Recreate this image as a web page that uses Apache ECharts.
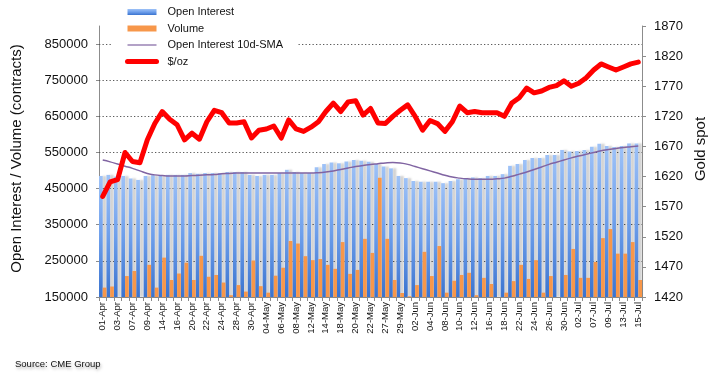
<!DOCTYPE html>
<html><head><meta charset="utf-8">
<script src="https://cdn.jsdelivr.net/npm/echarts@6/dist/echarts.min.js"></script>
<style>html,body{margin:0;padding:0;background:#fff}#c{width:717px;height:382px}</style>
</head><body><div id="c"></div>
<script>
const categories = ['01-Apr','02-Apr','03-Apr','06-Apr','07-Apr','08-Apr','09-Apr','13-Apr','14-Apr','15-Apr','16-Apr','17-Apr','20-Apr','21-Apr','22-Apr','23-Apr','24-Apr','27-Apr','28-Apr','29-Apr','30-Apr',
'01-May','04-May','05-May','06-May','07-May','08-May','11-May','12-May','13-May','14-May','15-May','18-May','19-May','20-May','21-May','22-May','26-May','27-May','28-May','29-May',
'01-Jun','02-Jun','03-Jun','04-Jun','05-Jun','08-Jun','09-Jun','10-Jun','11-Jun','12-Jun','15-Jun','16-Jun','17-Jun','18-Jun','19-Jun','22-Jun','23-Jun','24-Jun','25-Jun','26-Jun','29-Jun','30-Jun',
'01-Jul','02-Jul','06-Jul','07-Jul','08-Jul','09-Jul','10-Jul','13-Jul','14-Jul','15-Jul'];

const openInterest = [485000,488000,483000,485000,478000,474000,485000,487000,485000,488000,488000,488000,493000,491000,493000,493000,493000,496000,496000,496000,488000,
485000,488000,488000,493000,502000,496000,493000,493000,509000,518000,522000,520000,525000,529000,527000,524000,518000,511000,506000,485000,
479000,471000,469000,469000,469000,465000,471000,476000,479000,481000,479000,485000,485000,490000,513000,518000,529000,535000,535000,543000,543000,557000,
553000,554000,557000,566000,574000,568000,565000,568000,575000,575000];

const volume = [176000,179000,145000,208000,222000,140000,239000,176000,259000,197000,215000,245000,197000,264000,206000,211000,190000,155000,183000,165000,251000,
180000,162000,209000,231000,305000,298000,263000,252000,255000,239000,228000,302000,214000,225000,311000,272000,480000,311000,197000,161000,
152000,183000,275000,208000,291000,162000,195000,211000,217000,155000,203000,186000,140000,162000,194000,239000,200000,252000,162000,208000,140000,211000,
283000,203000,203000,247000,313000,338000,270000,270000,302000,197000];

const oiSma10 = [529000,524000,518000,512000,506000,499000,492000,488000,486000,485000,485000,485000,486000,487000,488000,489000,491000,492000,493000,493000,493000,
493000,493000,493000,493000,493000,493000,493000,493000,494000,496000,499000,503000,507000,511000,514000,517000,519000,521000,522000,521000,
517000,511000,505000,499000,493000,487000,482000,479000,477000,476000,476000,476000,477000,479000,484000,490000,496000,503000,510000,517000,523000,529000,
535000,540000,545000,550000,555000,558000,561000,564000,566000,568000];

const goldSpot = [1587,1611,1615,1660,1645,1643,1681,1708,1728,1715,1706,1681,1692,1682,1711,1730,1726,1709,1709,1711,1684,
1697,1699,1704,1684,1714,1699,1695,1702,1711,1728,1742,1728,1744,1746,1722,1733,1709,1708,1720,1730,
1739,1720,1697,1713,1708,1695,1711,1737,1726,1728,1726,1726,1726,1720,1742,1751,1767,1759,1762,1768,1771,1779,
1770,1775,1784,1797,1807,1802,1797,1802,1807,1810];

const leftTicks = [150000,250000,350000,450000,550000,650000,750000,850000];
const rightTicks = [1420,1470,1520,1570,1620,1670,1720,1770,1820,1870];

const FONT = 'Liberation Sans, Arial, Helvetica, sans-serif';
const chart = echarts.init(document.getElementById('c'), null, {renderer: 'canvas'});
const axisGrey = '#8c8c8c';
const plain = v => String(v);

chart.setOption({
  animation: false,
  backgroundColor: '#ffffff',
  textStyle: {fontFamily: FONT},
  grid: {left: 99, right: 75, top: 26, bottom: 85, containLabel: false},
  legend: {
    orient: 'vertical', left: 113, top: 4.5, padding: [2, 15, 2, 12], z: 20,
    backgroundColor: '#ffffff',
    itemGap: 5.5, itemWidth: 29, itemHeight: 6,
    textStyle: {fontFamily: FONT, fontSize: 11, color: '#111', lineHeight: 11, padding: [0,0,0,6]},
    itemStyle: {shadowBlur: 0, shadowOffsetX: 0, shadowOffsetY: 0, shadowColor: 'rgba(0,0,0,0)'},
    data: [
      {name: 'Open Interest', icon: 'rect'},
      {name: 'Volume', icon: 'rect'},
      {name: 'Open Interest 10d-SMA', itemStyle: {color: 'rgba(0,0,0,0)', borderWidth: 0, opacity: 0}, lineStyle: {width: 1.2}},
      {name: '$/oz', itemStyle: {color: 'rgba(0,0,0,0)', borderWidth: 0, opacity: 0}, lineStyle: {width: 5, cap: 'round'}}
    ]
  },
  xAxis: {
    type: 'category', data: categories, boundaryGap: true,
    axisLine: {lineStyle: {color: axisGrey, width: 1}},
    axisTick: {show: true, interval: 0, length: 4, lineStyle: {color: axisGrey}},
    axisLabel: {interval: 1, rotate: 90, fontSize: 9.5, color: '#111', margin: 5, fontFamily: FONT}
  },
  yAxis: [
    {
      type: 'value', min: 150000, max: 900000, position: 'left',
      name: 'Open Interest / Volume (contracts)', nameLocation: 'middle', nameGap: 75, nameRotate: 90,
      nameTextStyle: {fontSize: 15, color: '#111', fontFamily: FONT, padding: [0,0,0,6]},
      axisLine: {show: true, lineStyle: {color: axisGrey}},
      axisTick: {show: true, length: 3, lineStyle: {color: axisGrey}, customValues: leftTicks},
      axisLabel: {fontSize: 13, color: '#111', margin: 11, customValues: leftTicks, fontFamily: FONT, formatter: plain},
      splitLine: {show: false}
    },
    {
      type: 'value', min: 1420, max: 1870, position: 'right',
      name: 'Gold spot', nameLocation: 'middle', nameGap: 48, nameRotate: 90,
      nameTextStyle: {fontSize: 15, color: '#111', fontFamily: FONT, padding: [0,0,0,25]},
      axisLine: {show: true, lineStyle: {color: axisGrey}},
      axisTick: {show: true, length: 4, lineStyle: {color: axisGrey}, customValues: rightTicks},
      axisLabel: {fontSize: 13, color: '#111', margin: 12, customValues: rightTicks, fontFamily: FONT, formatter: plain},
      splitLine: {show: false}
    }
  ],
  series: [
    {
      name: 'Open Interest', type: 'bar', yAxisIndex: 0, data: openInterest, z: 6,
      barGap: '0%', barCategoryGap: '0%',
      itemStyle: {
        color: new echarts.graphic.LinearGradient(0, 0, 0, 1, [
          {offset: 0, color: '#9ec2f7'}, {offset: 0.5, color: '#6e9feb'}, {offset: 1, color: '#3a73cf'}
        ]),
        shadowColor: 'rgba(0,0,0,0.18)', shadowBlur: 2, shadowOffsetX: 3.5, shadowOffsetY: 0
      },
      markLine: {
        silent: true, symbol: 'none',
        label: {show: false},
        lineStyle: {color: '#5a5a5a', type: [1.3, 2.2], width: 1},
        data: leftTicks.slice(1).map(v => ({yAxis: v}))
      }
    },
    {
      name: 'Volume', type: 'bar', yAxisIndex: 0, data: volume, z: 6,
      barGap: '0%', barCategoryGap: '0%', clip: true,
      itemStyle: {color: '#f7974a'}
    },
    {
      name: 'Open Interest 10d-SMA', type: 'line', yAxisIndex: 0, data: oiSma10, z: 7,
      symbol: 'none', smooth: true,
      lineStyle: {color: '#8064a2', width: 1.5},
      itemStyle: {color: '#8064a2'}
    },
    {
      name: '$/oz', type: 'line', yAxisIndex: 1, data: goldSpot, z: 8,
      symbol: 'none',
      lineStyle: {color: '#ff0000', width: 5, cap: 'round', join: 'round'},
      itemStyle: {color: '#ff0000'}
    }
  ],
  graphic: [{
    type: 'text', left: 15, top: 359,
    style: {text: 'Source: CME Group', fontSize: 9.5, fontFamily: FONT, fill: '#111',
      textShadowColor: 'rgba(0,0,0,0.35)', textShadowBlur: 3, textShadowOffsetX: 1, textShadowOffsetY: 2}
  }]
});
</script></body></html>
